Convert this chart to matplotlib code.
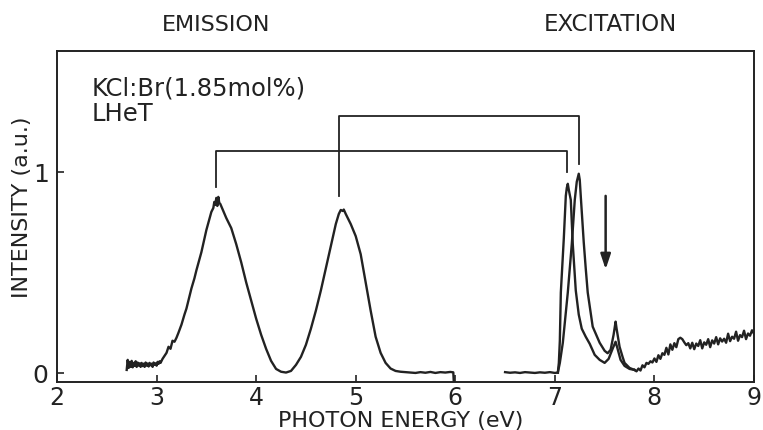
import matplotlib
matplotlib.use("Agg")
import matplotlib.pyplot as plt
import matplotlib.transforms as mtransforms

# ---- emission spectrum (KCl:Br, liquid-He temperature) ----
emis_x = [2.70, 2.71, 2.72, 2.73, 2.74, 2.75, 2.76, 2.77, 2.78, 2.79, 2.80, 2.81, 2.82,
          2.83, 2.84, 2.85, 2.86, 2.87, 2.88, 2.89, 2.90, 2.91, 2.92, 2.93, 2.94, 2.95,
          2.96, 2.97, 2.98, 2.99, 3.00, 3.01, 3.02, 3.03, 3.04, 3.06, 3.08, 3.10, 3.12,
          3.14, 3.16, 3.18, 3.20, 3.22, 3.25, 3.28, 3.30, 3.33, 3.35, 3.38, 3.40, 3.45,
          3.50, 3.55, 3.57, 3.58, 3.59, 3.60, 3.61, 3.62, 3.63, 3.64, 3.67, 3.70, 3.75,
          3.80, 3.85, 3.90, 3.95, 4.00, 4.05, 4.10, 4.15, 4.20, 4.25, 4.30, 4.35, 4.40,
          4.45, 4.50, 4.55, 4.60, 4.65, 4.70, 4.75, 4.80, 4.83, 4.85, 4.87, 4.88, 4.90,
          4.95, 5.00, 5.05, 5.10, 5.15, 5.20, 5.25, 5.30, 5.35, 5.40, 5.45, 5.50, 5.55,
          5.60, 5.65, 5.70, 5.75, 5.80, 5.85, 5.90, 5.95, 5.98, 5.985]
emis_y = [0.015, 0.065, 0.025, 0.055, 0.030, 0.060, 0.028, 0.050, 0.035, 0.058, 0.030, 0.052,
          0.036, 0.048, 0.030, 0.050, 0.034, 0.046, 0.030, 0.052, 0.036, 0.047, 0.032, 0.050,
          0.038, 0.046, 0.030, 0.052, 0.040, 0.048, 0.036, 0.055, 0.045, 0.058, 0.050, 0.070,
          0.085, 0.100, 0.130, 0.120, 0.160, 0.155, 0.175, 0.200, 0.240, 0.290, 0.320, 0.380,
          0.420, 0.470, 0.510, 0.600, 0.710, 0.800, 0.820, 0.850, 0.835, 0.870, 0.830, 0.875,
          0.845, 0.840, 0.805, 0.770, 0.720, 0.640, 0.550, 0.450, 0.360, 0.270, 0.190, 0.120,
          0.060, 0.020, 0.006, 0.002, 0.010, 0.040, 0.080, 0.140, 0.220, 0.310, 0.410, 0.520,
          0.630, 0.740, 0.790, 0.810, 0.805, 0.812, 0.790, 0.740, 0.680, 0.590, 0.450, 0.310,
          0.180, 0.100, 0.050, 0.022, 0.010, 0.006, 0.004, 0.002, 0.000, 0.004, 0.001, 0.005,
          0.000, 0.004, 0.002, 0.005, 0.003, -0.045]

# ---- excitation spectra ----
# common baseline below the absorption edge
base_x = [6.50, 6.55, 6.60, 6.65, 6.70, 6.75, 6.80, 6.85, 6.90, 6.95, 7.00, 7.03]
base_y = [0.004, 0.001, 0.003, 0.000, 0.004, 0.002, 0.000, 0.003, 0.001, 0.004, 0.000, 0.002]

# monitored at the 3.6 eV emission band
exc1_x = [7.03, 7.04, 7.05, 7.06, 7.08, 7.09, 7.11, 7.12, 7.13, 7.14, 7.16, 7.18, 7.21,
          7.24, 7.27, 7.31, 7.35, 7.40, 7.45, 7.50, 7.54, 7.58, 7.61, 7.63, 7.66, 7.70,
          7.75, 7.80]
exc1_y = [0.002, 0.050, 0.160, 0.400, 0.580, 0.670, 0.880, 0.920, 0.940, 0.910, 0.860, 0.640,
          0.410, 0.290, 0.220, 0.180, 0.145, 0.090, 0.065, 0.050, 0.070, 0.120, 0.155, 0.120,
          0.065, 0.035, 0.020, 0.015]

# monitored at the 4.85 eV emission band
exc2_x = [7.03, 7.05, 7.08, 7.11, 7.13, 7.15, 7.17, 7.20, 7.22, 7.24, 7.25, 7.26, 7.29,
          7.31, 7.33, 7.38, 7.45, 7.50, 7.53, 7.56, 7.59, 7.61, 7.62, 7.65, 7.68, 7.70,
          7.75, 7.80]
exc2_y = [0.002, 0.050, 0.150, 0.300, 0.400, 0.520, 0.640, 0.860, 0.950, 0.990, 0.960, 0.880,
          0.650, 0.520, 0.400, 0.230, 0.150, 0.110, 0.098, 0.115, 0.190, 0.255, 0.220, 0.130,
          0.080, 0.050, 0.025, 0.015]

# shared high-energy tail
tail_x = [7.80, 7.82, 7.84, 7.86, 7.88, 7.90, 7.92, 7.94, 7.96, 7.98, 8.00, 8.02, 8.04,
          8.06, 8.08, 8.10, 8.12, 8.14, 8.16, 8.18, 8.20, 8.22, 8.24, 8.26, 8.28, 8.30,
          8.32, 8.34, 8.36, 8.38, 8.40, 8.42, 8.44, 8.46, 8.48, 8.50, 8.52, 8.54, 8.56,
          8.58, 8.60, 8.62, 8.64, 8.66, 8.68, 8.70, 8.72, 8.74, 8.76, 8.78, 8.80, 8.82,
          8.84, 8.86, 8.88, 8.90, 8.92, 8.94, 8.96, 8.98, 9.00]
tail_y = [0.015, 0.008, 0.022, 0.012, 0.038, 0.028, 0.050, 0.045, 0.058, 0.052, 0.072, 0.055,
          0.088, 0.070, 0.098, 0.090, 0.125, 0.092, 0.142, 0.115, 0.148, 0.128, 0.168, 0.175,
          0.168, 0.152, 0.138, 0.148, 0.122, 0.150, 0.118, 0.146, 0.134, 0.163, 0.122, 0.152,
          0.140, 0.168, 0.128, 0.162, 0.146, 0.178, 0.142, 0.172, 0.156, 0.170, 0.150, 0.195,
          0.158, 0.180, 0.170, 0.205, 0.160, 0.188, 0.178, 0.210, 0.168, 0.196, 0.185, 0.212,
          0.195]

# brackets linking each emission band with its excitation peak
br1_x = [3.60, 3.60, 7.12, 7.12]
br1_y = [0.925, 1.105, 1.105, 1.000]
br2_x = [4.83, 4.83, 7.24, 7.24]
br2_y = [0.880, 1.275, 1.275, 1.040]

# arrow marking the Br-related feature
arrow_x = 7.51
arrow_y = [0.88, 0.515]

xticks = [2, 3, 4, 5, 6, 7, 8, 9]
yticks = [0, 1]
ytick_labels = ["0", "1"]

plt.rcParams["font.family"] = ["DejaVu Sans"]
ink = "#222222"

fig = plt.figure(figsize=(7.63, 4.31), dpi=100)
ax = fig.add_axes([57 / 763, 48 / 431, 697 / 763, 331 / 431])

lw = 1.7
ax.plot(emis_x, emis_y, color=ink, lw=lw)
ax.plot(base_x, base_y, color=ink, lw=lw)
ax.plot(exc1_x, exc1_y, color=ink, lw=lw)
ax.plot(exc2_x, exc2_y, color=ink, lw=lw)
ax.plot(tail_x, tail_y, color=ink, lw=lw)
ax.plot(br1_x, br1_y, color=ink, lw=1.3)
ax.plot(br2_x, br2_y, color=ink, lw=1.3)
ax.annotate("", xy=(arrow_x, arrow_y[1]), xytext=(arrow_x, arrow_y[0]),
            arrowprops=dict(arrowstyle="-|>,head_length=0.9,head_width=0.3",
                            color=ink, lw=1.8, shrinkA=0, shrinkB=0))

ax.set_xlim(2, 9)
ax.set_ylim(-0.045, 1.60)
ax.set_xticks(xticks)
ax.set_yticks(yticks)
ax.set_yticklabels(ytick_labels)
ax.tick_params(direction="in", length=5, width=1.2, colors=ink, labelsize=17)
ax.tick_params(axis="x", pad=2)
ax.tick_params(axis="y", pad=6, labelsize=18)
for s in ax.spines.values():
    s.set_linewidth(1.4)
    s.set_color(ink)

trans = mtransforms.blended_transform_factory(ax.transData, ax.transAxes)
ax.text(3.6, 1.082, "EMISSION", transform=trans, ha="center", va="center",
        fontsize=16, color=ink)
ax.text(7.56, 1.082, "EXCITATION", transform=trans, ha="center", va="center",
        fontsize=16.5, color=ink)
ax.text(2.35, 1.42, "KCl:Br(1.85mol%)", ha="left", va="center", fontsize=17.5, color=ink)
ax.text(2.35, 1.29, "LHeT", ha="left", va="center", fontsize=17.5, color=ink)
ax.text(5.45, -0.115, "PHOTON ENERGY (eV)", transform=trans, ha="center", va="center",
        fontsize=16, color=ink)
ax.text(-0.05, 0.532, "INTENSITY (a.u.)", transform=ax.transAxes, rotation=90,
        ha="center", va="center", fontsize=16, color=ink)

fig.savefig("out.png", dpi=100, facecolor="white")
